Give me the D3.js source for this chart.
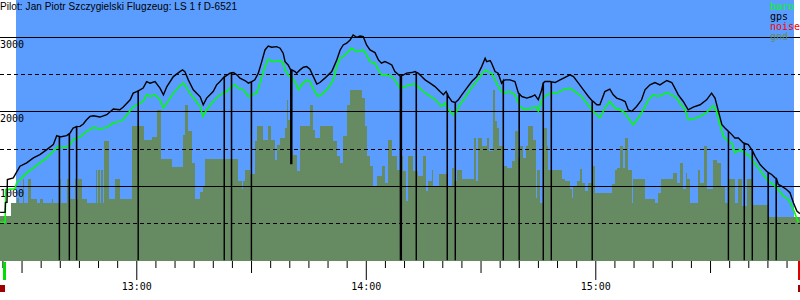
<!DOCTYPE html>
<html>
<head>
<meta charset="utf-8">
<script src="https://cdn.jsdelivr.net/npm/d3@7"></script>
<style>
body { margin: 0; background: #fff; }
svg { display: block; }
</style>
</head>
<body>
<div id="chart-wrapper"></div>
<script>
// all times are minutes after 12:00, altitudes in metres

var title_text = 'Pilot: Jan Piotr Szczygielski Flugzeug: LS 1 f D-6521';
var start_min = 24.37, end_min = 233.52;
var takeoff_min = 25.8, landing_min = 233.3;

var baro_time = [24.4, 25.7, 25.9, 28.3, 28.7, 29.6, 31.35, 33.1, 34.8, 36.6,
    38.3, 39.6, 40.05, 41.8, 42.7, 43.5, 45.3, 47.0, 47.9, 48.8,
    50.5, 52.3, 54.0, 55.7, 56.6, 57.9, 59.2, 60.1, 61.8, 62.7,
    63.6, 64.9, 66.2, 67.1, 68.0, 69.7, 71.4, 72.3, 73.2, 74.0,
    75.35, 76.7, 77.4, 78.4, 80.1, 81.9, 83.6, 84.9, 85.8, 86.7,
    88.0, 89.3, 90.2, 91.5, 92.35, 93.65, 94.5, 95.8, 97.6, 98.4,
    98.9, 99.7, 100.6, 101.5, 102.4, 103.2, 104.55, 105.4, 106.7, 107.6,
    108.9, 110.2, 111.5, 112.4, 113.3, 114.1, 115.4, 116.3, 117.6, 119.35,
    120.2, 121.1, 122.4, 123.3, 124.1, 125.5, 126.8, 127.6, 128.9, 130.25,
    131.6, 132.9, 133.7, 135.0, 136.3, 137.65, 139.0, 139.85, 140.7, 141.6,
    142.9, 143.8, 144.6, 145.9, 147.25, 148.6, 149.9, 151.2, 152.0, 152.9,
    153.8, 155.1, 156.0, 157.7, 159.0, 160.3, 161.6, 163.4, 164.7, 165.1,
    166.0, 167.3, 168.6, 169.9, 171.6, 173.4, 174.7, 176.4, 177.75, 179.1,
    180.4, 181.2, 182.5, 183.8, 185.15, 186.5, 187.8, 188.6, 189.9, 191.25,
    192.55, 193.9, 195.2, 196.5, 198.7, 200.0, 201.3, 202.1, 203.5, 204.3,
    205.6, 207.4, 209.1, 210.85, 211.7, 212.6, 213.5, 214.8, 215.7, 216.5,
    217.8, 219.1, 220.4, 221.3, 222.6, 223.9, 225.2, 226.5, 227.85, 229.2,
    230.5, 231.8, 233.1];
var baro_alt = [509, 509, 951, 960, 1040, 1085, 1174, 1241, 1308, 1375,
    1464, 1531, 1509, 1523, 1553, 1620, 1657, 1732, 1754, 1785,
    1764, 1785, 1844, 1866, 1888, 1978, 2058, 2089, 2133, 2223,
    2200, 2223, 2156, 2045, 2112, 2246, 2344, 2380, 2313, 2246,
    2156, 2066, 1933, 2022, 2133, 2223, 2267, 2334, 2357, 2313,
    2290, 2200, 2223, 2246, 2380, 2602, 2701, 2669, 2683, 2648,
    2558, 2491, 2447, 2401, 2290, 2357, 2424, 2401, 2267, 2200,
    2246, 2313, 2424, 2602, 2715, 2736, 2803, 2849, 2803, 2826,
    2759, 2669, 2648, 2558, 2491, 2491, 2468, 2424, 2313, 2334,
    2357, 2371, 2334, 2267, 2223, 2179, 2112, 2066, 2112, 2022,
    1955, 2000, 2089, 2179, 2290, 2380, 2468, 2558, 2535, 2514,
    2424, 2290, 2246, 2267, 2223, 2066, 2022, 2045, 2058, 2000,
    2156, 2223, 2246, 2246, 2290, 2313, 2267, 2200, 2112, 2022,
    1955, 1915, 2045, 2133, 2045, 2022, 1978, 1911, 1821, 1911,
    2022, 2156, 2223, 2200, 2254, 2223, 2179, 2112, 2022, 1888,
    1898, 1933, 1986, 2076, 2000, 1821, 1665, 1598, 1576, 1442,
    1486, 1442, 1397, 1330, 1241, 1152, 1062, 1018, 951, 861,
    817, 683, 505];

var gps_time = [24.4, 25.7, 25.8, 26.2, 26.3, 27.85, 28.6, 29.6, 31.35, 33.1,
    34.8, 36.6, 38.3, 39.2, 40.05, 41.8, 42.7, 43.5, 45.3, 46.15,
    47.0, 47.9, 48.8, 50.5, 52.3, 54.0, 55.7, 56.6, 58.4, 59.2,
    60.1, 61.8, 62.7, 63.6, 64.9, 66.2, 67.1, 68.0, 69.7, 71.4,
    72.1, 72.7, 73.6, 74.9, 76.7, 77.5, 78.4, 80.1, 81.0, 81.9,
    83.2, 84.5, 85.4, 86.3, 87.1, 88.4, 89.3, 90.2, 91.0, 91.9,
    92.8, 93.65, 94.5, 95.4, 96.7, 97.6, 98.4, 98.9, 99.7, 100.6,
    101.5, 101.9, 102.8, 103.7, 104.55, 105.4, 106.3, 107.2, 108.0, 109.3,
    110.2, 111.1, 112.4, 113.3, 114.1, 115.0, 115.9, 116.7, 117.6, 118.5,
    119.35, 120.2, 121.1, 122.4, 123.3, 124.1, 125.0, 125.9, 126.8, 127.6,
    128.9, 130.7, 132.0, 132.9, 133.7, 134.6, 135.5, 136.8, 138.1, 139.4,
    140.3, 141.0, 141.6, 142.5, 143.3, 144.2, 145.1, 146.4, 147.7, 149.0,
    150.3, 151.2, 151.6, 152.5, 152.9, 153.8, 154.6, 155.5, 156.4, 157.7,
    159.0, 159.9, 160.8, 162.1, 163.4, 164.2, 165.1, 166.0, 166.85, 168.2,
    169.5, 170.8, 172.5, 173.4, 174.3, 175.6, 176.9, 178.2, 179.5, 180.4,
    181.2, 182.5, 183.8, 184.7, 185.6, 186.9, 187.8, 188.6, 189.5, 190.8,
    192.1, 193.0, 194.3, 195.6, 196.9, 198.7, 200.0, 200.8, 201.7, 203.0,
    204.3, 205.6, 207.4, 209.1, 210.4, 211.3, 212.2, 213.1, 213.9, 214.8,
    215.7, 216.5, 217.4, 218.7, 220.0, 220.9, 221.8, 223.1, 223.9, 224.8,
    226.1, 227.0, 227.85, 228.7, 230.0, 230.9, 231.8, 232.7, 233.5];
var gps_alt = [643, 643, 777, 777, 1085, 1107, 1174, 1263, 1308, 1375,
    1420, 1486, 1553, 1674, 1657, 1674, 1710, 1777, 1799, 1831,
    1888, 1933, 1942, 1924, 1955, 2032, 2022, 2058, 2156, 2246,
    2267, 2313, 2401, 2380, 2401, 2313, 2223, 2334, 2468, 2535,
    2558, 2535, 2424, 2290, 2196, 2089, 2179, 2267, 2357, 2401,
    2468, 2514, 2522, 2491, 2447, 2415, 2380, 2401, 2424, 2514,
    2669, 2826, 2879, 2862, 2870, 2849, 2782, 2669, 2625, 2558,
    2535, 2514, 2558, 2594, 2602, 2567, 2468, 2367, 2388, 2447,
    2491, 2535, 2692, 2826, 2893, 2916, 2960, 3027, 2996, 3013,
    3004, 2893, 2826, 2790, 2692, 2648, 2669, 2648, 2625, 2535,
    2478, 2514, 2522, 2535, 2514, 2468, 2424, 2380, 2334, 2267,
    2223, 2267, 2200, 2133, 2120, 2156, 2223, 2313, 2401, 2468,
    2602, 2715, 2669, 2683, 2648, 2535, 2514, 2380, 2424, 2424,
    2401, 2246, 2200, 2179, 2200, 2223, 2156, 2290, 2401, 2401,
    2388, 2424, 2468, 2491, 2468, 2380, 2290, 2200, 2133, 2089,
    2089, 2267, 2299, 2223, 2179, 2156, 2133, 2022, 1999, 2066,
    2156, 2290, 2357, 2388, 2357, 2415, 2388, 2313, 2223, 2133,
    2022, 2058, 2089, 2156, 2246, 2179, 2000, 1821, 1777, 1732,
    1688, 1643, 1643, 1576, 1553, 1486, 1397, 1286, 1241, 1196,
    1152, 1107, 1018, 995, 951, 907, 773, 660, 625];

// gps fixes that dropped out: time, altitude before the drop, altitude of the bad fix
var drop_time = [39.9, 42.5, 44.4, 60.5, 83.0, 84.9, 90.1, 100.4, 100.65, 129.05,
    129.3, 133.2, 141.3, 143.4, 155.95, 160.1, 166.4, 168.5, 179.2, 214.8,
    218.95, 221.05, 225.2, 227.3];
var drop_top = [1661, 1701, 1795, 2277, 2464, 2518, 2397, 2558, 2558, 2478,
    2478, 2525, 2237, 2120, 2411, 2237, 2384, 2397, 2143, 1732,
    1571, 1473, 1178, 1102];
var drop_alt = [0, 0, 0, 0, 0, 0, 0, 1290, 1290, 0,
    0, 0, 0, 0, 0, 0, 0, 0, 0, 0,
    0, 0, 0, 0];

var ground_time = [24.4, 27.3, 28.8, 29.3, 30.3, 30.6, 31.8, 32.4, 34.0, 34.8,
    35.7, 37.9, 38.3, 39.9, 40.3, 41.8, 42.3, 44.0, 44.5, 44.8,
    45.7, 47.0, 49.5, 49.8, 50.1, 50.5, 50.7, 51.2, 51.6, 52.9,
    54.4, 55.7, 58.8, 62.0, 64.0, 65.3, 66.4, 69.3, 72.1, 72.7,
    73.6, 74.5, 75.35, 76.7, 77.4, 78.0, 86.7, 87.6, 88.0, 88.4,
    89.7, 91.0, 91.6, 93.2, 94.5, 95.1, 96.3, 96.7, 97.6, 98.9,
    99.5, 99.7, 100.4, 101.0, 101.9, 102.8, 105.4, 106.3, 106.7, 108.0,
    111.5, 112.4, 113.3, 114.1, 115.0, 115.9, 118.9, 119.8, 120.2, 121.1,
    122.0, 122.9, 124.2, 125.0, 125.9, 126.8, 128.1, 128.9, 129.6, 130.5,
    131.1, 132.4, 133.7, 135.0, 135.7, 136.3, 137.2, 137.7, 139.2, 141.6,
    142.5, 143.1, 143.8, 145.1, 148.3, 148.8, 149.4, 150.3, 151.8, 152.3,
    153.2, 153.8, 154.2, 154.9, 156.0, 157.0, 158.2, 159.0, 159.9, 160.3,
    161.0, 161.9, 162.5, 163.8, 164.5, 164.8, 165.6, 166.4, 167.3, 167.7,
    171.2, 172.1, 173.4, 173.8, 174.3, 175.1, 176.0, 176.4, 177.3, 178.2,
    179.1, 179.9, 184.3, 185.1, 185.8, 186.5, 187.2, 187.8, 188.6, 189.5,
    189.9, 193.0, 195.6, 196.5, 197.1, 200.4, 201.4, 202.1, 203.0, 203.7,
    204.1, 204.8, 206.9, 207.4, 208.3, 209.1, 210.9, 211.9, 212.8, 213.9,
    214.8, 216.5, 217.4, 218.3, 219.6, 220.9, 225.2];
var ground_alt = [593, 773, 830, 773, 1085, 773, 1085, 826, 773, 826,
    773, 826, 773, 1085, 773, 1085, 826, 1085, 826, 1085,
    826, 773, 1209, 773, 1209, 773, 1209, 773, 1598, 826,
    1085, 826, 1808, 1620, 1657, 2022, 1362, 1255, 1687, 2089,
    1732, 1308, 817, 911, 995, 1362, 1062, 951, 1062, 1219,
    1152, 1598, 1808, 1620, 1808, 1620, 1353, 1553, 1643, 1777,
    2156, 1888, 1486, 1420, 1196, 1808, 2089, 1754, 1643, 1808,
    1598, 1397, 1308, 1665, 2089, 2290, 2179, 1799, 1397, 1263,
    995, 1129, 1263, 1041, 1620, 1397, 1219, 1397, 1196, 794,
    1397, 1196, 1129, 1397, 928, 1062, 1219, 995, 1165, 995,
    1241, 1062, 1219, 1085, 1643, 1062, 1643, 1531, 1643, 1464,
    2290, 1866, 1777, 1531, 1263, 1241, 1330, 1732, 1375, 1531,
    1375, 1531, 1808, 1620, 840, 1219, 773, 1777, 1531, 1219,
    1085, 1062, 951, 840, 995, 1062, 1228, 1041, 928, 1031,
    1263, 907, 1018, 1219, 1241, 1540, 1241, 1643, 1219, 773,
    1085, 826, 773, 907, 1085, 1175, 1041, 1308, 951, 1175,
    1085, 773, 1219, 1041, 1540, 951, 1353, 1308, 1004, 773,
    1085, 773, 1085, 727, 1085, 737, 585];

var grid_values = [500, 1000, 1500, 2000, 2500, 3000];
var label_values = [1000, 2000, 3000];
var legend_names = ['baro', 'gps', 'noise', 'gnd'];

var colors = {
    sky: '#5a9dfe',
    gnd: '#668b62',
    baro: '#00ff00',
    gps: '#000000',
    noise: '#ff0000'
};

var total_width = 800, total_height = 300;
var plot_bottom = 261;
var sky_left = 16, sky_right = 794;
var mono = 'DejaVu Sans Mono';

var svg = d3.select('#chart-wrapper').append('svg')
    .attr('width', total_width)
    .attr('height', total_height);

var base = new Date(2000, 0, 1, 12, 0, 0);
var to_date = function(m) { return new Date(base.getTime() + m * 60000); };

var scale_x = d3.scaleTime()
    .domain([to_date(start_min), to_date(end_min)])
    .range([0, total_width]);
var scale_y = d3.scaleLinear()
    .domain([0, 3500])
    .range([260.2, -0.2]);

svg.append('rect')
    .attr('x', sky_left)
    .attr('y', 0)
    .attr('width', sky_right - sky_left)
    .attr('height', plot_bottom)
    .attr('fill', colors.sky);

// terrain under the glider, drawn as steps
var ground = ground_time.map(function(t, i) { return {t: t, alt: ground_alt[i]}; });
ground.push({t: end_min, alt: ground_alt[ground_alt.length - 1]});
svg.append('path')
    .datum(ground)
    .attr('d', d3.area()
        .curve(d3.curveStepAfter)
        .x(function(d) { return scale_x(to_date(d.t)); })
        .y0(plot_bottom)
        .y1(function(d) { return scale_y(d.alt); }))
    .attr('fill', colors.gnd)
    .attr('shape-rendering', 'crispEdges');

// horizontal grid, solid every 1000 m, dashed in between
svg.append('g').selectAll('line')
    .data(grid_values)
    .enter()
  .append('line')
    .attr('x1', 0)
    .attr('x2', total_width)
    .attr('y1', function(d) { return Math.round(scale_y(d)) + 0.5; })
    .attr('y2', function(d) { return Math.round(scale_y(d)) + 0.5; })
    .attr('stroke', '#000')
    .attr('stroke-width', 1)
    .attr('stroke-dasharray', function(d) { return d % 1000 ? '4,3' : null; });

svg.append('g').selectAll('text')
    .data(label_values)
    .enter()
  .append('text')
    .attr('x', 0)
    .attr('y', function(d) { return Math.round(scale_y(d)) + 10.5; })
    .attr('font-family', mono)
    .attr('font-size', 10)
    .attr('fill', '#000')
    .text(function(d) { return d; });

var line_of = function() {
    return d3.line()
        .x(function(d) { return scale_x(to_date(d.t)); })
        .y(function(d) { return scale_y(d.alt); });
};

var baro = baro_time.map(function(t, i) { return {t: t, alt: baro_alt[i]}; });

var gps = gps_time.map(function(t, i) { return {t: t, alt: gps_alt[i]}; });
drop_time.forEach(function(t, i) {
    gps.push({t: t - 0.03, alt: drop_top[i]});
    gps.push({t: t, alt: drop_alt[i]});
    gps.push({t: t + 0.03, alt: drop_top[i]});
});
gps.sort(function(a, b) { return a.t - b.t; });

svg.append('path')
    .datum(baro)
    .attr('d', line_of())
    .attr('fill', 'none')
    .attr('stroke', colors.baro)
    .attr('stroke-width', 1.5);

svg.append('path')
    .datum(gps)
    .attr('d', line_of())
    .attr('fill', 'none')
    .attr('stroke', colors.gps)
    .attr('stroke-width', 1.4);

// time axis: 5 min ticks, longer at half hours and hours
var axis_x = d3.axisBottom(scale_x)
    .ticks(d3.timeMinute.every(5))
    .tickSizeOuter(0)
    .tickFormat(function(d) { return d.getMinutes() === 0 ? d3.timeFormat('%H:%M')(d) : ''; });

var gx = svg.append('g')
    .attr('transform', 'translate(0,' + plot_bottom + ')')
    .call(axis_x)
    .attr('font-family', mono)
    .attr('font-size', 10);
gx.select('.domain').remove();
gx.selectAll('.tick line')
    .attr('y2', function(d) {
        var m = d.getMinutes();
        return m === 0 ? 19 : (m % 30 === 0 ? 12 : 7);
    });
gx.selectAll('.tick text')
    .attr('y', 22)
    .attr('fill', '#000');

// takeoff and landing markers
var take_x = scale_x(to_date(takeoff_min));
var land_x = scale_x(to_date(landing_min));
svg.append('rect').attr('x', Math.round(take_x) - 2).attr('y', 262)
    .attr('width', 3).attr('height', 18).attr('fill', '#00dd00');
svg.append('rect').attr('x', Math.round(take_x) - 6).attr('y', 285)
    .attr('width', 6).attr('height', 7).attr('fill', '#a00000');
svg.append('rect').attr('x', Math.round(land_x) - 1).attr('y', 261)
    .attr('width', 3).attr('height', 19).attr('fill', '#dd0000');
svg.append('rect').attr('x', Math.round(land_x) - 1).attr('y', 285)
    .attr('width', 3).attr('height', 7).attr('fill', '#a00000');

svg.append('text')
    .attr('x', 0)
    .attr('y', 10)
    .attr('font-family', 'Liberation Sans, Arial, sans-serif')
    .attr('font-size', 10)
    .attr('textLength', 237)
    .attr('lengthAdjust', 'spacing')
    .attr('fill', '#000')
    .text(title_text);

svg.append('g').selectAll('text')
    .data(legend_names)
    .enter()
  .append('text')
    .attr('x', 770)
    .attr('y', function(d, i) { return 10 + i * 10; })
    .attr('font-family', mono)
    .attr('font-size', 10)
    .attr('fill', function(d) { return colors[d]; })
    .text(function(d) { return d; });
</script>
</body>
</html>
